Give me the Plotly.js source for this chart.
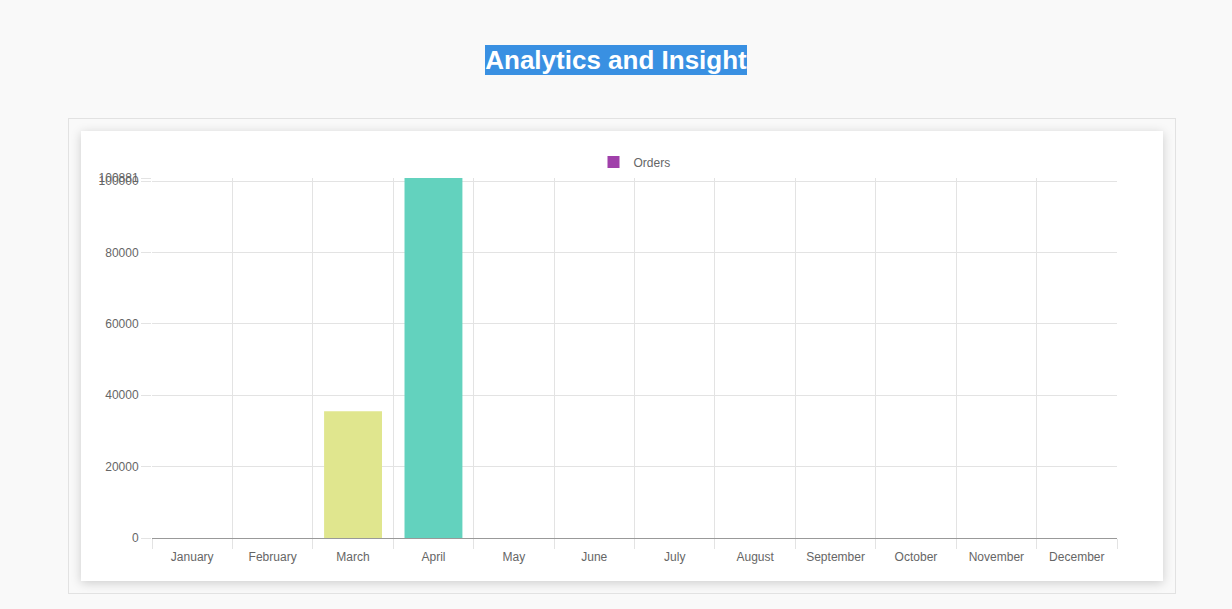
<!DOCTYPE html>
<html>
<head>
<meta charset="utf-8">
<script src="https://cdn.plot.ly/plotly-3.0.1.min.js"></script>
<style>
  body { margin: 0; background: #f9f9f9; font-family: "Liberation Sans", Arial, sans-serif; }
  h1 { position: absolute; top: 45px; left: 0; width: 1232px; margin: 0; text-align: center; font-size: 26px; line-height: 31px; }
  h1 span { background: #3990e2; color: #fff; }
  .outer { position: absolute; left: 68px; top: 118px; width: 1106px; height: 474px; border: 1px solid #e2e2e2; }
  .card { position: absolute; left: 81px; top: 131px; width: 1082px; height: 450px; background: #fff; box-shadow: 0 2px 10px rgba(0,0,0,0.18); }
  #plot { position: absolute; left: 0; top: 0; width: 1232px; height: 609px; }
</style>
</head>
<body>
<h1><span>Analytics and Insight</span></h1>
<div class="outer"></div>
<div class="card"></div>
<div id="plot"></div>
<script>
// chart data
const months = ["January", "February", "March", "April", "May", "June", "July",
  "August", "September", "October", "November", "December"];
const orders = [0, 0, 35500, 100881, 0, 0, 0, 0, 0, 0, 0, 0];
const barColors = ["#a040aa", "#8fc3e8", "#e0e68e", "#63d2be", "#f0a0a0", "#a0a0f0",
  "#f0c080", "#80c080", "#c080c0", "#80c0c0", "#c0c080", "#c08080"];
const yTicks = [0, 20000, 40000, 60000, 80000, 100000, 100881];
const yLabels = ["0", "20000", "40000", "60000", "80000", "100000", "100881"];

const gridColor = "#e3e3e3";
const traces = [
  {
    type: "bar", x: months, y: orders, name: "Orders",
    marker: { color: barColors },
    hoverinfo: "x+y", showlegend: false,
  },
  // legend entry only
  { type: "bar", x: [null], y: [null], name: "Orders", marker: { color: "#a040aa" }, hoverinfo: "skip" },
  // carrier for the category boundary grid
  { type: "scatter", x: [0], y: [0], xaxis: "x2", mode: "markers",
    marker: { opacity: 0 }, showlegend: false, hoverinfo: "skip" },
];

const layout = {
  width: 1232, height: 609,
  paper_bgcolor: "rgba(0,0,0,0)", plot_bgcolor: "rgba(0,0,0,0)",
  margin: { l: 152, r: 115, t: 178, b: 71 },
  font: { family: "Liberation Sans, Arial, sans-serif", size: 12, color: "#666" },
  bargap: 0.28,
  showlegend: true,
  legend: { orientation: "h", x: 0.5, xanchor: "center", y: 0.71, yanchor: "bottom", yref: "container",
    font: { size: 12, color: "#666" } },
  xaxis: { type: "category", range: [-0.5, 11.5], showgrid: false, showline: false,
    ticks: "outside", ticklen: 8, tickcolor: "rgba(0,0,0,0)", fixedrange: true },
  xaxis2: { overlaying: "x", range: [-0.5, 11.5], tickvals: [-0.5,0.5,1.5,2.5,3.5,4.5,5.5,6.5,7.5,8.5,9.5,10.5,11.5],
    showticklabels: false, showgrid: true, gridcolor: gridColor, ticks: "outside", ticklen: 10,
    tickcolor: gridColor, zeroline: false, side: "bottom" },
  yaxis: { range: [0, 100881], tickvals: yTicks, ticktext: yLabels, showgrid: true, gridcolor: gridColor,
    zeroline: true, zerolinecolor: "#999", ticks: "outside", ticklen: 10, tickcolor: gridColor,
    showline: false },
};
Plotly.newPlot("plot", traces, layout, { displayModeBar: false });
</script>
</body>
</html>
